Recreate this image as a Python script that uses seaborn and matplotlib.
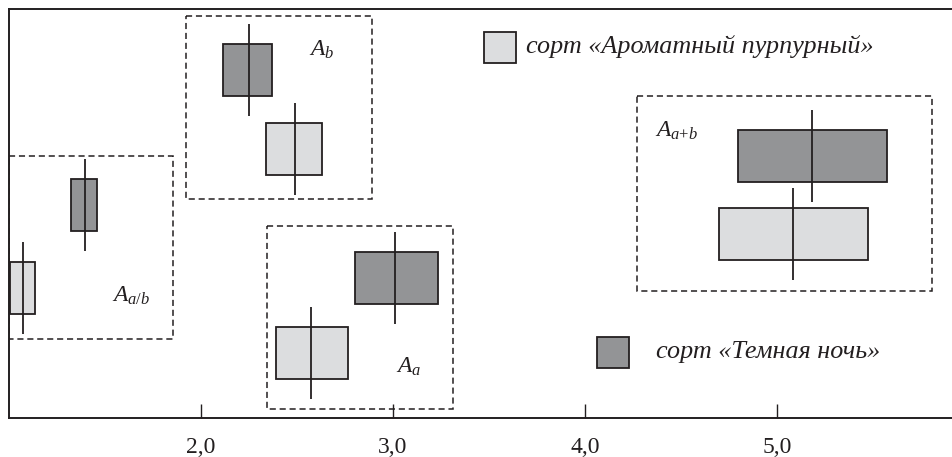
import matplotlib
matplotlib.use("Agg")
import matplotlib.pyplot as plt
from matplotlib.patches import Rectangle
import seaborn as sns

# Interval estimates (lower bound, mean, upper bound) for each effect
groups = ["a/b", "b", "a", "a{+}b"]
light_low = [1.005, 2.34, 2.39, 4.70]
light_mean = [1.074, 2.49, 2.573, 5.085]
light_high = [1.137, 2.63, 2.767, 5.475]
dark_low = [1.325, 2.113, 2.80, 4.798]
dark_mean = [1.394, 2.25, 3.01, 5.181]
dark_high = [1.457, 2.371, 3.236, 5.571]

series_names = ["сорт «Ароматный пурпурный»", "сорт «Темная ночь»"]
tick_values = [2.0, 3.0, 4.0, 5.0]
tick_labels = ["2,0", "3,0", "4,0", "5,0"]

# Layout (vertical axis is a free layout coordinate, top = small values)
light_y = [287.7, 149.3, 352.9, 233.9]
dark_y = [204.7, 69.7, 278.0, 156.0]
box_h = 52
whisk_half = 46
frames = [  # x0, x1, y_top, y_bottom
    (1.0, 1.853, 155.7, 339.3),
    (1.920, 2.889, 15.7, 199.3),
    (2.342, 3.314, 225.7, 409.3),
    (4.269, 5.806, 95.7, 290.7),
]
label_pos = [(1.536, 296), (2.565, 50), (3.015, 367), (4.365, 131)]

LIGHT = "#dcdddf"
DARK = "#939496"
INK = "#231f20"

sns.set_theme(style="ticks")
plt.rcParams["font.family"] = ["Liberation Serif", "DejaVu Serif"]
plt.rcParams["mathtext.fontset"] = "custom"
plt.rcParams["mathtext.rm"] = "Liberation Serif"
plt.rcParams["mathtext.it"] = "Liberation Serif:italic"

W, H = 952, 457
fig = plt.figure(figsize=(W / 100, H / 100), dpi=100)
ax = fig.add_axes([9 / W, (H - 417.7) / H, (W - 9) / W, (417.7 - 9) / H])
ax.set_xlim(1.0, 2 + (W - 201) / 192)
ax.set_ylim(417.7, 9)

def draw_series(lows, means, highs, ys, color):
    widths = [h - l for l, h in zip(lows, highs)]
    ax.barh(ys, widths, left=lows, height=box_h, color=color,
            edgecolor=INK, linewidth=1.3, zorder=3)
    ax.vlines(means, [y - whisk_half for y in ys], [y + whisk_half for y in ys],
              color=INK, linewidth=1.3, zorder=4)

draw_series(light_low, light_mean, light_high, light_y, LIGHT)
draw_series(dark_low, dark_mean, dark_high, dark_y, DARK)

for (x0, x1, yt, yb) in frames:
    ax.add_patch(Rectangle((x0, yt), x1 - x0, yb - yt, fill=False,
                           edgecolor=INK, linewidth=1.1, linestyle=(0, (4, 2.5)),
                           zorder=2))

for g, (lx, ly) in zip(groups, label_pos):
    ax.text(lx, ly, "$A_{%s}$" % g, fontsize=17, ha="left", va="center",
            color=INK, zorder=5)

# Legend
ax.add_patch(Rectangle((3.476, 32.3), 0.164, 30.4, facecolor=LIGHT,
                       edgecolor=INK, linewidth=1.3, zorder=5))
ax.text(3.695, 47, series_names[0], fontsize=18.8, style="italic",
        ha="left", va="center", color=INK)
ax.add_patch(Rectangle((4.061, 336.7), 0.170, 31.6, facecolor=DARK,
                       edgecolor=INK, linewidth=1.3, zorder=5))
ax.text(4.370, 352, series_names[1], fontsize=18.8, style="italic",
        ha="left", va="center", color=INK)

ax.set_xticks(tick_values)
ax.set_xticklabels(tick_labels, fontsize=17, color=INK)
ax.set_yticks([])
ax.tick_params(axis="x", direction="in", length=10, width=1.0, color=INK, pad=14)
for side in ["left", "bottom", "top"]:
    ax.spines[side].set_linewidth(1.4)
    ax.spines[side].set_color(INK)
ax.spines["right"].set_visible(False)
ax.set_facecolor("white")
fig.patch.set_facecolor("white")

fig.savefig("out.png", dpi=100)
